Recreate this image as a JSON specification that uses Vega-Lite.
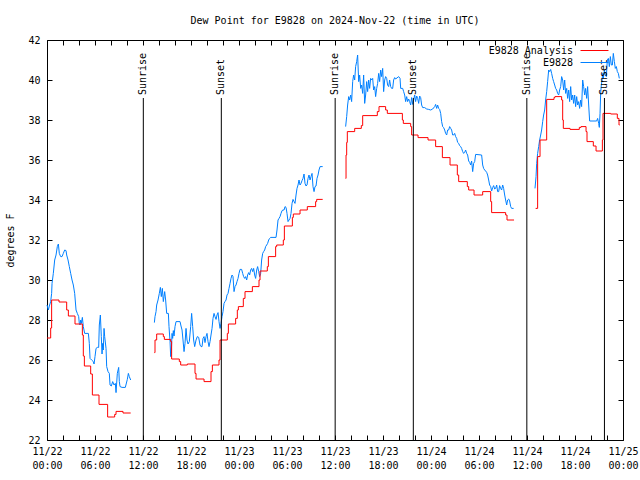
{
  "$schema": "https://vega.github.io/schema/vega-lite/v6.json",
  "width": 576,
  "height": 400,
  "autosize": {"type": "none"},
  "padding": {"left": 47, "top": 40, "right": 17, "bottom": 40},
  "background": "white",
  "title": {"text": "Dew Point for E9828 on 2024-Nov-22 (time in UTC)", "font": "DejaVu Sans Mono", "fontSize": 10, "fontWeight": "normal", "color": "black", "offset": 9, "anchor": "middle"},
  "config": {
    "view": {"stroke": "black", "strokeWidth": 1},
    "axis": {"domain": false, "grid": false, "tickColor": "black", "tickSize": -5, "tickWidth": 1, "labelFont": "DejaVu Sans Mono", "labelFontSize": 10, "labelColor": "black", "titleFont": "DejaVu Sans Mono", "titleFontSize": 10, "titleFontWeight": "normal", "titleColor": "black"},
    "legend": {"labelFont": "DejaVu Sans Mono", "labelFontSize": 10, "labelColor": "black"}
  },
  "datasets": {
    "obs": [
      {"seg":1,"hour":0.0,"dewpoint":28.75},{"seg":1,"hour":0.17,"dewpoint":28.5},{"seg":1,"hour":0.29,"dewpoint":28.7},{"seg":1,"hour":0.46,"dewpoint":28.92},{"seg":1,"hour":0.58,"dewpoint":29.33},{"seg":1,"hour":0.63,"dewpoint":29.83},{"seg":1,"hour":0.79,"dewpoint":30.33},{"seg":1,"hour":0.96,"dewpoint":31.0},{"seg":1,"hour":1.13,"dewpoint":31.25},{"seg":1,"hour":1.29,"dewpoint":31.67},{"seg":1,"hour":1.42,"dewpoint":31.8},{"seg":1,"hour":1.54,"dewpoint":31.33},{"seg":1,"hour":1.71,"dewpoint":31.17},{"seg":1,"hour":1.88,"dewpoint":31.17},{"seg":1,"hour":2.04,"dewpoint":31.33},{"seg":1,"hour":2.21,"dewpoint":31.5},{"seg":1,"hour":2.38,"dewpoint":31.47},{"seg":1,"hour":2.46,"dewpoint":31.25},{"seg":1,"hour":2.63,"dewpoint":31.0},{"seg":1,"hour":2.79,"dewpoint":30.67},{"seg":1,"hour":2.96,"dewpoint":30.33},{"seg":1,"hour":3.13,"dewpoint":30.0},{"seg":1,"hour":3.29,"dewpoint":29.75},{"seg":1,"hour":3.46,"dewpoint":29.33},{"seg":1,"hour":3.63,"dewpoint":28.5},{"seg":1,"hour":3.79,"dewpoint":28.33},{"seg":1,"hour":3.96,"dewpoint":28.17},{"seg":1,"hour":4.04,"dewpoint":27.83},{"seg":1,"hour":4.13,"dewpoint":27.75},{"seg":1,"hour":4.21,"dewpoint":28.0},{"seg":1,"hour":4.29,"dewpoint":27.83},{"seg":1,"hour":4.42,"dewpoint":28.13},{"seg":1,"hour":4.54,"dewpoint":27.67},{"seg":1,"hour":4.71,"dewpoint":27.33},{"seg":1,"hour":5.17,"dewpoint":27.33},{"seg":1,"hour":5.29,"dewpoint":26.83},{"seg":1,"hour":5.38,"dewpoint":26.08},{"seg":1,"hour":5.58,"dewpoint":26.0},{"seg":1,"hour":5.79,"dewpoint":25.92},{"seg":1,"hour":5.88,"dewpoint":25.8},{"seg":1,"hour":6.0,"dewpoint":26.17},{"seg":1,"hour":6.13,"dewpoint":26.58},{"seg":1,"hour":6.29,"dewpoint":26.63},{"seg":1,"hour":6.46,"dewpoint":26.63},{"seg":1,"hour":6.54,"dewpoint":27.75},{"seg":1,"hour":6.67,"dewpoint":28.25},{"seg":1,"hour":6.79,"dewpoint":27.17},{"seg":1,"hour":6.88,"dewpoint":26.3},{"seg":1,"hour":6.96,"dewpoint":26.83},{"seg":1,"hour":7.04,"dewpoint":26.5},{"seg":1,"hour":7.13,"dewpoint":27.58},{"seg":1,"hour":7.21,"dewpoint":27.17},{"seg":1,"hour":7.38,"dewpoint":26.58},{"seg":1,"hour":7.46,"dewpoint":25.67},{"seg":1,"hour":7.63,"dewpoint":25.42},{"seg":1,"hour":7.79,"dewpoint":25.33},{"seg":1,"hour":7.88,"dewpoint":24.75},{"seg":1,"hour":8.04,"dewpoint":24.7},{"seg":1,"hour":8.21,"dewpoint":24.92},{"seg":1,"hour":8.38,"dewpoint":24.75},{"seg":1,"hour":8.54,"dewpoint":24.83},{"seg":1,"hour":8.63,"dewpoint":24.37},{"seg":1,"hour":8.79,"dewpoint":25.33},{"seg":1,"hour":8.96,"dewpoint":25.63},{"seg":1,"hour":9.04,"dewpoint":24.92},{"seg":1,"hour":9.13,"dewpoint":24.67},{"seg":1,"hour":9.38,"dewpoint":24.63},{"seg":1,"hour":9.79,"dewpoint":24.63},{"seg":1,"hour":10.04,"dewpoint":25.03},{"seg":1,"hour":10.17,"dewpoint":25.33},{"seg":1,"hour":10.29,"dewpoint":25.17},{"seg":1,"hour":10.46,"dewpoint":25.0},
      {"seg":2,"hour":13.42,"dewpoint":27.87},{"seg":2,"hour":13.5,"dewpoint":28.17},{"seg":2,"hour":13.63,"dewpoint":28.42},{"seg":2,"hour":13.71,"dewpoint":28.75},{"seg":2,"hour":13.88,"dewpoint":29.0},{"seg":2,"hour":14.04,"dewpoint":29.33},{"seg":2,"hour":14.17,"dewpoint":29.63},{"seg":2,"hour":14.29,"dewpoint":29.17},{"seg":2,"hour":14.42,"dewpoint":29.58},{"seg":2,"hour":14.54,"dewpoint":28.92},{"seg":2,"hour":14.63,"dewpoint":29.17},{"seg":2,"hour":14.71,"dewpoint":29.42},{"seg":2,"hour":14.83,"dewpoint":29.0},{"seg":2,"hour":14.96,"dewpoint":28.33},{"seg":2,"hour":15.17,"dewpoint":28.33},{"seg":2,"hour":15.25,"dewpoint":27.67},{"seg":2,"hour":15.38,"dewpoint":26.92},{"seg":2,"hour":15.46,"dewpoint":26.17},{"seg":2,"hour":15.54,"dewpoint":26.42},{"seg":2,"hour":15.63,"dewpoint":27.33},{"seg":2,"hour":15.71,"dewpoint":27.08},{"seg":2,"hour":15.79,"dewpoint":27.47},{"seg":2,"hour":15.88,"dewpoint":27.2},{"seg":2,"hour":16.0,"dewpoint":27.67},{"seg":2,"hour":16.13,"dewpoint":27.92},{"seg":2,"hour":16.63,"dewpoint":27.92},{"seg":2,"hour":16.75,"dewpoint":27.7},{"seg":2,"hour":16.88,"dewpoint":27.5},{"seg":2,"hour":17.0,"dewpoint":27.0},{"seg":2,"hour":17.13,"dewpoint":26.42},{"seg":2,"hour":17.25,"dewpoint":26.83},{"seg":2,"hour":17.38,"dewpoint":27.58},{"seg":2,"hour":17.5,"dewpoint":27.0},{"seg":2,"hour":17.63,"dewpoint":26.8},{"seg":2,"hour":17.79,"dewpoint":26.92},{"seg":2,"hour":17.96,"dewpoint":27.67},{"seg":2,"hour":18.08,"dewpoint":28.33},{"seg":2,"hour":18.21,"dewpoint":27.67},{"seg":2,"hour":18.33,"dewpoint":27.0},{"seg":2,"hour":18.46,"dewpoint":26.67},{"seg":2,"hour":18.63,"dewpoint":27.0},{"seg":2,"hour":18.79,"dewpoint":27.17},{"seg":2,"hour":18.96,"dewpoint":27.13},{"seg":2,"hour":19.13,"dewpoint":26.75},{"seg":2,"hour":19.25,"dewpoint":26.67},{"seg":2,"hour":19.38,"dewpoint":26.67},{"seg":2,"hour":19.5,"dewpoint":27.08},{"seg":2,"hour":19.63,"dewpoint":27.17},{"seg":2,"hour":19.75,"dewpoint":26.87},{"seg":2,"hour":19.88,"dewpoint":27.17},{"seg":2,"hour":20.0,"dewpoint":27.33},{"seg":2,"hour":20.13,"dewpoint":26.92},{"seg":2,"hour":20.25,"dewpoint":26.67},{"seg":2,"hour":20.38,"dewpoint":26.92},{"seg":2,"hour":20.5,"dewpoint":27.25},{"seg":2,"hour":20.63,"dewpoint":27.58},{"seg":2,"hour":20.75,"dewpoint":28.08},{"seg":2,"hour":20.88,"dewpoint":28.33},{"seg":2,"hour":21.0,"dewpoint":28.17},{"seg":2,"hour":21.13,"dewpoint":28.03},{"seg":2,"hour":21.25,"dewpoint":28.25},{"seg":2,"hour":21.38,"dewpoint":28.37},{"seg":2,"hour":21.5,"dewpoint":27.92},{"seg":2,"hour":21.63,"dewpoint":27.58},{"seg":2,"hour":21.75,"dewpoint":27.83},{"seg":2,"hour":21.88,"dewpoint":28.17},{"seg":2,"hour":22.0,"dewpoint":28.42},{"seg":2,"hour":22.13,"dewpoint":28.83},{"seg":2,"hour":22.25,"dewpoint":28.92},{"seg":2,"hour":22.38,"dewpoint":29.0},{"seg":2,"hour":22.5,"dewpoint":29.25},{"seg":2,"hour":22.63,"dewpoint":29.33},{"seg":2,"hour":22.75,"dewpoint":29.58},{"seg":2,"hour":22.88,"dewpoint":29.83},{"seg":2,"hour":23.0,"dewpoint":30.08},{"seg":2,"hour":23.13,"dewpoint":30.25},{"seg":2,"hour":23.25,"dewpoint":30.17},{"seg":2,"hour":23.38,"dewpoint":29.42},{"seg":2,"hour":23.5,"dewpoint":29.67},{"seg":2,"hour":23.63,"dewpoint":29.75},{"seg":2,"hour":23.75,"dewpoint":29.92},{"seg":2,"hour":23.88,"dewpoint":30.08},{"seg":2,"hour":24.0,"dewpoint":30.33},{"seg":2,"hour":24.13,"dewpoint":30.53},{"seg":2,"hour":24.33,"dewpoint":30.53},{"seg":2,"hour":24.46,"dewpoint":30.33},{"seg":2,"hour":24.58,"dewpoint":30.17},{"seg":2,"hour":24.71,"dewpoint":30.08},{"seg":2,"hour":24.83,"dewpoint":30.17},{"seg":2,"hour":24.96,"dewpoint":30.0},{"seg":2,"hour":25.08,"dewpoint":30.25},{"seg":2,"hour":25.21,"dewpoint":30.37},{"seg":2,"hour":25.33,"dewpoint":30.25},{"seg":2,"hour":25.46,"dewpoint":30.5},{"seg":2,"hour":25.58,"dewpoint":30.58},{"seg":2,"hour":25.71,"dewpoint":30.42},{"seg":2,"hour":25.83,"dewpoint":30.58},{"seg":2,"hour":25.96,"dewpoint":30.25},{"seg":2,"hour":26.08,"dewpoint":30.08},{"seg":2,"hour":26.21,"dewpoint":30.5},{"seg":2,"hour":26.33,"dewpoint":30.67},{"seg":2,"hour":26.46,"dewpoint":30.42},{"seg":2,"hour":26.58,"dewpoint":30.17},{"seg":2,"hour":26.71,"dewpoint":30.33},{"seg":2,"hour":26.83,"dewpoint":31.0},{"seg":2,"hour":26.96,"dewpoint":31.33},{"seg":2,"hour":27.08,"dewpoint":31.42},{"seg":2,"hour":27.21,"dewpoint":31.5},{"seg":2,"hour":27.33,"dewpoint":31.67},{"seg":2,"hour":27.46,"dewpoint":31.75},{"seg":2,"hour":27.58,"dewpoint":31.83},{"seg":2,"hour":27.71,"dewpoint":32.0},{"seg":2,"hour":27.83,"dewpoint":32.08},{"seg":2,"hour":27.96,"dewpoint":32.13},{"seg":2,"hour":28.63,"dewpoint":32.13},{"seg":2,"hour":28.75,"dewpoint":32.5},{"seg":2,"hour":28.88,"dewpoint":33.0},{"seg":2,"hour":29.0,"dewpoint":33.08},{"seg":2,"hour":29.13,"dewpoint":33.17},{"seg":2,"hour":29.25,"dewpoint":33.33},{"seg":2,"hour":29.38,"dewpoint":33.47},{"seg":2,"hour":29.5,"dewpoint":33.5},{"seg":2,"hour":29.63,"dewpoint":33.5},{"seg":2,"hour":29.75,"dewpoint":33.67},{"seg":2,"hour":29.88,"dewpoint":33.63},{"seg":2,"hour":30.0,"dewpoint":33.33},{"seg":2,"hour":30.13,"dewpoint":32.92},{"seg":2,"hour":30.25,"dewpoint":33.0},{"seg":2,"hour":30.38,"dewpoint":33.08},{"seg":2,"hour":30.5,"dewpoint":33.33},{"seg":2,"hour":30.63,"dewpoint":33.83},{"seg":2,"hour":30.75,"dewpoint":34.03},{"seg":2,"hour":30.88,"dewpoint":33.92},{"seg":2,"hour":31.0,"dewpoint":33.83},{"seg":2,"hour":31.13,"dewpoint":34.25},{"seg":2,"hour":31.25,"dewpoint":34.58},{"seg":2,"hour":31.38,"dewpoint":34.75},{"seg":2,"hour":31.5,"dewpoint":35.0},{"seg":2,"hour":31.63,"dewpoint":34.75},{"seg":2,"hour":31.75,"dewpoint":34.83},{"seg":2,"hour":31.88,"dewpoint":34.97},{"seg":2,"hour":32.0,"dewpoint":35.08},{"seg":2,"hour":32.13,"dewpoint":35.3},{"seg":2,"hour":32.25,"dewpoint":34.83},{"seg":2,"hour":32.38,"dewpoint":34.7},{"seg":2,"hour":32.5,"dewpoint":34.75},{"seg":2,"hour":32.63,"dewpoint":35.08},{"seg":2,"hour":32.75,"dewpoint":35.25},{"seg":2,"hour":32.88,"dewpoint":35.0},{"seg":2,"hour":33.0,"dewpoint":35.17},{"seg":2,"hour":33.13,"dewpoint":35.33},{"seg":2,"hour":33.25,"dewpoint":34.67},{"seg":2,"hour":33.38,"dewpoint":34.42},{"seg":2,"hour":33.5,"dewpoint":34.67},{"seg":2,"hour":33.63,"dewpoint":34.7},{"seg":2,"hour":33.75,"dewpoint":35.08},{"seg":2,"hour":33.88,"dewpoint":35.25},{"seg":2,"hour":34.0,"dewpoint":35.5},{"seg":2,"hour":34.13,"dewpoint":35.67},{"seg":2,"hour":34.46,"dewpoint":35.67},
      {"seg":3,"hour":37.33,"dewpoint":37.67},{"seg":3,"hour":37.46,"dewpoint":38.17},{"seg":3,"hour":37.58,"dewpoint":38.75},{"seg":3,"hour":37.71,"dewpoint":39.17},{"seg":3,"hour":37.83,"dewpoint":39.0},{"seg":3,"hour":37.96,"dewpoint":39.25},{"seg":3,"hour":38.08,"dewpoint":38.92},{"seg":3,"hour":38.21,"dewpoint":39.92},{"seg":3,"hour":38.33,"dewpoint":40.25},{"seg":3,"hour":38.46,"dewpoint":40.0},{"seg":3,"hour":38.58,"dewpoint":40.67},{"seg":3,"hour":38.71,"dewpoint":40.92},{"seg":3,"hour":38.83,"dewpoint":41.25},{"seg":3,"hour":38.96,"dewpoint":39.92},{"seg":3,"hour":39.08,"dewpoint":40.25},{"seg":3,"hour":39.21,"dewpoint":39.58},{"seg":3,"hour":39.33,"dewpoint":39.75},{"seg":3,"hour":39.46,"dewpoint":39.33},{"seg":3,"hour":39.58,"dewpoint":40.25},{"seg":3,"hour":39.71,"dewpoint":38.83},{"seg":3,"hour":39.83,"dewpoint":39.25},{"seg":3,"hour":39.96,"dewpoint":39.92},{"seg":3,"hour":40.08,"dewpoint":39.42},{"seg":3,"hour":40.21,"dewpoint":40.0},{"seg":3,"hour":40.33,"dewpoint":39.58},{"seg":3,"hour":40.46,"dewpoint":40.08},{"seg":3,"hour":40.58,"dewpoint":40.0},{"seg":3,"hour":40.71,"dewpoint":40.08},{"seg":3,"hour":40.83,"dewpoint":39.5},{"seg":3,"hour":40.96,"dewpoint":39.67},{"seg":3,"hour":41.08,"dewpoint":39.17},{"seg":3,"hour":41.21,"dewpoint":39.58},{"seg":3,"hour":41.33,"dewpoint":39.83},{"seg":3,"hour":41.46,"dewpoint":40.33},{"seg":3,"hour":41.58,"dewpoint":39.92},{"seg":3,"hour":41.71,"dewpoint":40.5},{"seg":3,"hour":41.83,"dewpoint":40.17},{"seg":3,"hour":41.96,"dewpoint":40.58},{"seg":3,"hour":42.08,"dewpoint":39.42},{"seg":3,"hour":42.21,"dewpoint":40.0},{"seg":3,"hour":42.33,"dewpoint":40.17},{"seg":3,"hour":42.46,"dewpoint":40.08},{"seg":3,"hour":42.58,"dewpoint":39.75},{"seg":3,"hour":42.71,"dewpoint":39.67},{"seg":3,"hour":42.83,"dewpoint":40.0},{"seg":3,"hour":42.96,"dewpoint":39.67},{"seg":3,"hour":43.08,"dewpoint":39.58},{"seg":3,"hour":43.21,"dewpoint":39.58},{"seg":3,"hour":43.33,"dewpoint":40.0},{"seg":3,"hour":43.46,"dewpoint":40.12},{"seg":3,"hour":43.58,"dewpoint":40.05},{"seg":3,"hour":43.96,"dewpoint":40.17},{"seg":3,"hour":44.13,"dewpoint":40.08},{"seg":3,"hour":44.21,"dewpoint":39.58},{"seg":3,"hour":44.46,"dewpoint":39.58},{"seg":3,"hour":44.58,"dewpoint":39.42},{"seg":3,"hour":44.71,"dewpoint":39.25},{"seg":3,"hour":44.83,"dewpoint":38.92},{"seg":3,"hour":44.96,"dewpoint":39.17},{"seg":3,"hour":45.08,"dewpoint":38.92},{"seg":3,"hour":45.21,"dewpoint":39.05},{"seg":3,"hour":45.33,"dewpoint":38.92},{"seg":3,"hour":45.46,"dewpoint":38.75},{"seg":3,"hour":45.58,"dewpoint":39.12},{"seg":3,"hour":45.71,"dewpoint":38.78},{"seg":3,"hour":45.83,"dewpoint":39.0},{"seg":3,"hour":45.96,"dewpoint":39.25},{"seg":3,"hour":46.08,"dewpoint":38.92},{"seg":3,"hour":46.21,"dewpoint":39.2},{"seg":3,"hour":46.33,"dewpoint":39.08},{"seg":3,"hour":46.46,"dewpoint":38.83},{"seg":3,"hour":46.58,"dewpoint":39.2},{"seg":3,"hour":46.71,"dewpoint":39.12},{"seg":3,"hour":46.83,"dewpoint":38.75},{"seg":3,"hour":46.96,"dewpoint":38.62},{"seg":3,"hour":47.21,"dewpoint":38.62},{"seg":3,"hour":47.46,"dewpoint":38.55},{"seg":3,"hour":47.71,"dewpoint":38.53},{"seg":3,"hour":47.96,"dewpoint":38.5},{"seg":3,"hour":48.21,"dewpoint":38.55},{"seg":3,"hour":48.46,"dewpoint":38.67},{"seg":3,"hour":48.58,"dewpoint":38.78},{"seg":3,"hour":48.71,"dewpoint":38.58},{"seg":3,"hour":48.83,"dewpoint":38.75},{"seg":3,"hour":48.96,"dewpoint":38.58},{"seg":3,"hour":49.08,"dewpoint":38.53},{"seg":3,"hour":49.21,"dewpoint":38.33},{"seg":3,"hour":49.33,"dewpoint":37.92},{"seg":3,"hour":49.46,"dewpoint":37.67},{"seg":3,"hour":49.58,"dewpoint":37.62},{"seg":3,"hour":49.71,"dewpoint":37.5},{"seg":3,"hour":49.83,"dewpoint":37.33},{"seg":3,"hour":49.96,"dewpoint":37.25},{"seg":3,"hour":50.08,"dewpoint":37.5},{"seg":3,"hour":50.21,"dewpoint":37.5},{"seg":3,"hour":50.33,"dewpoint":37.67},{"seg":3,"hour":50.46,"dewpoint":37.58},{"seg":3,"hour":50.58,"dewpoint":37.5},{"seg":3,"hour":50.71,"dewpoint":37.25},{"seg":3,"hour":50.83,"dewpoint":37.25},{"seg":3,"hour":50.96,"dewpoint":37.33},{"seg":3,"hour":51.08,"dewpoint":37.17},{"seg":3,"hour":51.21,"dewpoint":37.08},{"seg":3,"hour":51.33,"dewpoint":36.88},{"seg":3,"hour":51.46,"dewpoint":36.83},{"seg":3,"hour":51.58,"dewpoint":36.72},{"seg":3,"hour":51.71,"dewpoint":36.67},{"seg":3,"hour":51.83,"dewpoint":36.58},{"seg":3,"hour":51.96,"dewpoint":36.42},{"seg":3,"hour":52.08,"dewpoint":36.33},{"seg":3,"hour":52.21,"dewpoint":36.38},{"seg":3,"hour":52.33,"dewpoint":36.5},{"seg":3,"hour":52.46,"dewpoint":36.33},{"seg":3,"hour":52.58,"dewpoint":36.25},{"seg":3,"hour":52.71,"dewpoint":35.95},{"seg":3,"hour":52.83,"dewpoint":35.88},{"seg":3,"hour":52.96,"dewpoint":35.75},{"seg":3,"hour":53.08,"dewpoint":35.95},{"seg":3,"hour":53.21,"dewpoint":35.42},{"seg":3,"hour":53.33,"dewpoint":35.83},{"seg":3,"hour":53.46,"dewpoint":35.92},{"seg":3,"hour":53.58,"dewpoint":36.28},{"seg":3,"hour":54.33,"dewpoint":36.25},{"seg":3,"hour":54.46,"dewpoint":35.75},{"seg":3,"hour":54.58,"dewpoint":35.58},{"seg":3,"hour":54.71,"dewpoint":35.5},{"seg":3,"hour":54.83,"dewpoint":35.45},{"seg":3,"hour":54.96,"dewpoint":35.38},{"seg":3,"hour":55.08,"dewpoint":35.25},{"seg":3,"hour":55.21,"dewpoint":35.0},{"seg":3,"hour":55.33,"dewpoint":34.75},{"seg":3,"hour":55.46,"dewpoint":34.67},{"seg":3,"hour":55.58,"dewpoint":34.45},{"seg":3,"hour":55.71,"dewpoint":34.62},{"seg":3,"hour":55.83,"dewpoint":34.72},{"seg":3,"hour":55.96,"dewpoint":34.55},{"seg":3,"hour":56.08,"dewpoint":34.58},{"seg":3,"hour":56.21,"dewpoint":34.75},{"seg":3,"hour":56.33,"dewpoint":34.42},{"seg":3,"hour":56.46,"dewpoint":34.42},{"seg":3,"hour":56.58,"dewpoint":34.72},{"seg":3,"hour":56.71,"dewpoint":34.58},{"seg":3,"hour":56.83,"dewpoint":34.5},{"seg":3,"hour":56.96,"dewpoint":34.75},{"seg":3,"hour":57.08,"dewpoint":34.58},{"seg":3,"hour":57.21,"dewpoint":34.25},{"seg":3,"hour":57.33,"dewpoint":34.0},{"seg":3,"hour":57.46,"dewpoint":33.75},{"seg":3,"hour":57.58,"dewpoint":34.0},{"seg":3,"hour":57.71,"dewpoint":34.05},{"seg":3,"hour":57.83,"dewpoint":33.95},{"seg":3,"hour":57.96,"dewpoint":33.67},{"seg":3,"hour":58.08,"dewpoint":33.58},{"seg":3,"hour":58.33,"dewpoint":33.58},
      {"seg":4,"hour":61.0,"dewpoint":34.58},{"seg":4,"hour":61.13,"dewpoint":35.17},{"seg":4,"hour":61.21,"dewpoint":35.83},{"seg":4,"hour":61.33,"dewpoint":36.33},{"seg":4,"hour":61.46,"dewpoint":36.67},{"seg":4,"hour":61.58,"dewpoint":37.0},{"seg":4,"hour":61.71,"dewpoint":37.25},{"seg":4,"hour":61.83,"dewpoint":37.5},{"seg":4,"hour":61.96,"dewpoint":37.92},{"seg":4,"hour":62.08,"dewpoint":38.25},{"seg":4,"hour":62.21,"dewpoint":38.5},{"seg":4,"hour":62.33,"dewpoint":39.0},{"seg":4,"hour":62.46,"dewpoint":39.42},{"seg":4,"hour":62.58,"dewpoint":39.92},{"seg":4,"hour":62.71,"dewpoint":40.5},{"seg":4,"hour":62.83,"dewpoint":40.42},{"seg":4,"hour":62.96,"dewpoint":40.53},{"seg":4,"hour":63.08,"dewpoint":40.33},{"seg":4,"hour":63.21,"dewpoint":40.08},{"seg":4,"hour":63.33,"dewpoint":39.92},{"seg":4,"hour":63.46,"dewpoint":39.75},{"seg":4,"hour":63.58,"dewpoint":39.58},{"seg":4,"hour":63.71,"dewpoint":39.5},{"seg":4,"hour":63.83,"dewpoint":39.33},{"seg":4,"hour":63.96,"dewpoint":39.25},{"seg":4,"hour":64.08,"dewpoint":39.5},{"seg":4,"hour":64.21,"dewpoint":39.67},{"seg":4,"hour":64.33,"dewpoint":40.17},{"seg":4,"hour":64.46,"dewpoint":40.0},{"seg":4,"hour":64.58,"dewpoint":39.5},{"seg":4,"hour":64.71,"dewpoint":40.0},{"seg":4,"hour":64.83,"dewpoint":39.33},{"seg":4,"hour":64.96,"dewpoint":39.58},{"seg":4,"hour":65.08,"dewpoint":39.08},{"seg":4,"hour":65.21,"dewpoint":39.5},{"seg":4,"hour":65.33,"dewpoint":38.92},{"seg":4,"hour":65.46,"dewpoint":39.67},{"seg":4,"hour":65.58,"dewpoint":39.0},{"seg":4,"hour":65.71,"dewpoint":39.25},{"seg":4,"hour":65.83,"dewpoint":38.83},{"seg":4,"hour":65.96,"dewpoint":39.25},{"seg":4,"hour":66.08,"dewpoint":38.67},{"seg":4,"hour":66.21,"dewpoint":39.17},{"seg":4,"hour":66.33,"dewpoint":38.75},{"seg":4,"hour":66.46,"dewpoint":38.92},{"seg":4,"hour":66.58,"dewpoint":38.58},{"seg":4,"hour":66.71,"dewpoint":39.0},{"seg":4,"hour":66.83,"dewpoint":38.67},{"seg":4,"hour":66.96,"dewpoint":40.0},{"seg":4,"hour":67.08,"dewpoint":39.67},{"seg":4,"hour":67.21,"dewpoint":39.25},{"seg":4,"hour":67.33,"dewpoint":39.58},{"seg":4,"hour":67.46,"dewpoint":39.08},{"seg":4,"hour":67.58,"dewpoint":39.67},{"seg":4,"hour":67.71,"dewpoint":38.75},{"seg":4,"hour":67.83,"dewpoint":37.95},{"seg":4,"hour":68.71,"dewpoint":37.95},{"seg":4,"hour":68.83,"dewpoint":38.08},{"seg":4,"hour":68.96,"dewpoint":37.83},{"seg":4,"hour":69.04,"dewpoint":37.63},{"seg":4,"hour":69.13,"dewpoint":38.33},{"seg":4,"hour":69.21,"dewpoint":39.33},{"seg":4,"hour":69.29,"dewpoint":39.75},{"seg":4,"hour":69.38,"dewpoint":40.0},{"seg":4,"hour":69.46,"dewpoint":40.33},{"seg":4,"hour":69.54,"dewpoint":40.08},{"seg":4,"hour":69.67,"dewpoint":40.5},{"seg":4,"hour":69.79,"dewpoint":40.25},{"seg":4,"hour":69.92,"dewpoint":40.17},{"seg":4,"hour":70.04,"dewpoint":41.0},{"seg":4,"hour":70.17,"dewpoint":41.08},{"seg":4,"hour":70.29,"dewpoint":40.67},{"seg":4,"hour":70.42,"dewpoint":41.17},{"seg":4,"hour":70.54,"dewpoint":40.75},{"seg":4,"hour":70.67,"dewpoint":40.75},{"seg":4,"hour":70.79,"dewpoint":41.33},{"seg":4,"hour":70.92,"dewpoint":40.92},{"seg":4,"hour":71.04,"dewpoint":40.58},{"seg":4,"hour":71.17,"dewpoint":40.67},{"seg":4,"hour":71.29,"dewpoint":40.42},{"seg":4,"hour":71.42,"dewpoint":40.33},{"seg":4,"hour":71.54,"dewpoint":40.08}
    ],
    "anl": [
      {"seg":1,"hour":0.0,"dewpoint":27.1},{"seg":1,"hour":0.46,"dewpoint":27.6},{"seg":1,"hour":0.58,"dewpoint":29.0},{"seg":1,"hour":1.5,"dewpoint":28.9},{"seg":1,"hour":2.46,"dewpoint":28.5},{"seg":1,"hour":2.67,"dewpoint":28.2},{"seg":1,"hour":3.5,"dewpoint":27.8},{"seg":1,"hour":4.42,"dewpoint":27.25},{"seg":1,"hour":4.54,"dewpoint":26.2},{"seg":1,"hour":4.67,"dewpoint":25.7},{"seg":1,"hour":5.46,"dewpoint":25.3},{"seg":1,"hour":5.67,"dewpoint":24.25},{"seg":1,"hour":6.5,"dewpoint":23.78},{"seg":1,"hour":7.58,"dewpoint":23.15},{"seg":1,"hour":8.46,"dewpoint":23.28},{"seg":1,"hour":8.63,"dewpoint":23.43},{"seg":1,"hour":9.5,"dewpoint":23.35},{"seg":1,"hour":10.46,"dewpoint":23.35},
      {"seg":2,"hour":13.42,"dewpoint":26.37},{"seg":2,"hour":13.5,"dewpoint":27.0},{"seg":2,"hour":13.71,"dewpoint":27.3},{"seg":2,"hour":14.54,"dewpoint":27.17},{"seg":2,"hour":14.67,"dewpoint":27.03},{"seg":2,"hour":15.46,"dewpoint":26.92},{"seg":2,"hour":15.58,"dewpoint":26.05},{"seg":2,"hour":16.54,"dewpoint":25.92},{"seg":2,"hour":16.71,"dewpoint":25.75},{"seg":2,"hour":17.54,"dewpoint":25.8},{"seg":2,"hour":18.5,"dewpoint":25.33},{"seg":2,"hour":18.63,"dewpoint":25.05},{"seg":2,"hour":19.63,"dewpoint":24.92},{"seg":2,"hour":20.5,"dewpoint":25.42},{"seg":2,"hour":20.67,"dewpoint":25.75},{"seg":2,"hour":21.5,"dewpoint":26.0},{"seg":2,"hour":21.63,"dewpoint":27.0},{"seg":2,"hour":22.54,"dewpoint":27.33},{"seg":2,"hour":22.67,"dewpoint":27.8},{"seg":2,"hour":23.58,"dewpoint":28.08},{"seg":2,"hour":23.79,"dewpoint":28.5},{"seg":2,"hour":23.92,"dewpoint":28.67},{"seg":2,"hour":24.54,"dewpoint":29.08},{"seg":2,"hour":24.75,"dewpoint":29.42},{"seg":2,"hour":25.67,"dewpoint":29.67},{"seg":2,"hour":26.5,"dewpoint":30.0},{"seg":2,"hour":26.63,"dewpoint":30.45},{"seg":2,"hour":27.54,"dewpoint":30.67},{"seg":2,"hour":27.67,"dewpoint":31.17},{"seg":2,"hour":28.58,"dewpoint":31.67},{"seg":2,"hour":28.71,"dewpoint":31.75},{"seg":2,"hour":29.54,"dewpoint":32.0},{"seg":2,"hour":29.67,"dewpoint":32.7},{"seg":2,"hour":30.67,"dewpoint":33.13},{"seg":2,"hour":30.79,"dewpoint":33.3},{"seg":2,"hour":31.63,"dewpoint":33.5},{"seg":2,"hour":32.54,"dewpoint":33.67},{"seg":2,"hour":33.58,"dewpoint":33.92},{"seg":2,"hour":33.71,"dewpoint":34.03},{"seg":2,"hour":34.46,"dewpoint":34.03},
      {"seg":3,"hour":37.33,"dewpoint":35.08},{"seg":3,"hour":37.38,"dewpoint":36.25},{"seg":3,"hour":37.46,"dewpoint":36.88},{"seg":3,"hour":37.54,"dewpoint":37.42},{"seg":3,"hour":38.46,"dewpoint":37.58},{"seg":3,"hour":39.29,"dewpoint":37.72},{"seg":3,"hour":39.46,"dewpoint":38.22},{"seg":3,"hour":41.29,"dewpoint":38.42},{"seg":3,"hour":41.5,"dewpoint":38.67},{"seg":3,"hour":42.33,"dewpoint":38.5},{"seg":3,"hour":42.54,"dewpoint":38.33},{"seg":3,"hour":44.42,"dewpoint":38.0},{"seg":3,"hour":44.54,"dewpoint":37.83},{"seg":3,"hour":45.46,"dewpoint":37.67},{"seg":3,"hour":45.58,"dewpoint":37.25},{"seg":3,"hour":46.38,"dewpoint":37.12},{"seg":3,"hour":47.63,"dewpoint":37.0},{"seg":3,"hour":48.58,"dewpoint":36.67},{"seg":3,"hour":49.42,"dewpoint":36.12},{"seg":3,"hour":50.38,"dewpoint":35.75},{"seg":3,"hour":51.29,"dewpoint":35.25},{"seg":3,"hour":51.46,"dewpoint":34.92},{"seg":3,"hour":52.54,"dewpoint":34.67},{"seg":3,"hour":52.71,"dewpoint":34.5},{"seg":3,"hour":53.38,"dewpoint":34.25},{"seg":3,"hour":54.46,"dewpoint":34.42},{"seg":3,"hour":55.46,"dewpoint":33.92},{"seg":3,"hour":55.58,"dewpoint":33.37},{"seg":3,"hour":57.33,"dewpoint":33.25},{"seg":3,"hour":57.5,"dewpoint":33.0},{"seg":3,"hour":58.38,"dewpoint":33.0},
      {"seg":4,"hour":61.08,"dewpoint":33.58},{"seg":4,"hour":61.33,"dewpoint":36.17},{"seg":4,"hour":61.63,"dewpoint":37.0},{"seg":4,"hour":62.46,"dewpoint":39.03},{"seg":4,"hour":63.38,"dewpoint":39.13},{"seg":4,"hour":63.5,"dewpoint":39.17},{"seg":4,"hour":64.33,"dewpoint":39.0},{"seg":4,"hour":64.46,"dewpoint":38.0},{"seg":4,"hour":64.54,"dewpoint":37.58},{"seg":4,"hour":65.38,"dewpoint":37.53},{"seg":4,"hour":66.54,"dewpoint":37.63},{"seg":4,"hour":66.75,"dewpoint":37.67},{"seg":4,"hour":67.38,"dewpoint":37.42},{"seg":4,"hour":67.5,"dewpoint":36.92},{"seg":4,"hour":68.29,"dewpoint":36.7},{"seg":4,"hour":68.63,"dewpoint":36.45},{"seg":4,"hour":69.42,"dewpoint":37.0},{"seg":4,"hour":69.5,"dewpoint":38.33},{"seg":4,"hour":70.46,"dewpoint":38.3},{"seg":4,"hour":71.29,"dewpoint":38.08},{"seg":4,"hour":71.5,"dewpoint":37.75},{"seg":4,"hour":71.58,"dewpoint":37.75}
    ],
    "sun": [
      {"event":"Sunrise","hour":12.04},{"event":"Sunset","hour":21.79},{"event":"Sunrise","hour":36.02},{"event":"Sunset","hour":45.79},{"event":"Sunrise","hour":59.98},{"event":"Sunset","hour":69.68}
    ]
  },
  "resolve": {"axis": {"x": "independent", "y": "independent"}},
  "layer": [
    {
      "data": {"name": "obs"},
      "mark": {"type": "line", "strokeWidth": 1, "interpolate": "linear"},
      "encoding": {
        "x": {"field": "hour", "type": "quantitative", "scale": {"domain": [0, 72], "nice": false, "zero": false},
              "axis": {"orient": "bottom", "title": null, "values": [0,2,4,6,8,10,12,14,16,18,20,22,24,26,28,30,32,34,36,38,40,42,44,46,48,50,52,54,56,58,60,62,64,66,68,70,72],
                       "labelExpr": "datum.value % 6 == 0 ? [utcFormat(utc(2024,10,22,datum.value,0), '%m/%d'), utcFormat(utc(2024,10,22,datum.value,0), '%H:%M')] : ''",
                       "labelOverlap": false, "labelFlush": false, "labelPadding": 11, "labelLineHeight": 14}},
        "y": {"field": "dewpoint", "type": "quantitative", "scale": {"domain": [22, 42], "nice": false, "zero": false},
              "axis": {"orient": "left", "title": "degrees F", "values": [22,24,26,28,30,32,34,36,38,40,42], "labelPadding": 12, "titlePadding": 12}},
        "detail": {"field": "seg"},
        "color": {"datum": "E9828", "type": "nominal",
                  "scale": {"domain": ["E9828 Analysis", "E9828"], "range": ["#ff0000", "#0080ff"]},
                  "legend": {"title": null, "orient": "none", "legendX": 541, "legendY": 4, "padding": 0, "symbolType": "M-2.33,0H2.33", "symbolSize": 144, "symbolStrokeWidth": 1, "labelAlign": "right", "labelOffset": -28, "rowPadding": 0}}
      }
    },
    {
      "data": {"name": "anl"},
      "mark": {"type": "line", "strokeWidth": 1, "interpolate": "step-after"},
      "encoding": {
        "x": {"field": "hour", "type": "quantitative",
              "axis": {"orient": "top", "title": null, "labels": false, "values": [0,2,4,6,8,10,12,14,16,18,20,22,24,26,28,30,32,34,36,38,40,42,44,46,48,50,52,54,56,58,60,62,64,66,68,70,72]}},
        "y": {"field": "dewpoint", "type": "quantitative",
              "axis": {"orient": "right", "title": null, "labels": false, "values": [22,24,26,28,30,32,34,36,38,40,42]}},
        "detail": {"field": "seg"},
        "color": {"datum": "E9828 Analysis", "type": "nominal"}
      }
    },
    {
      "data": {"name": "sun"},
      "mark": {"type": "rule", "color": "black", "strokeWidth": 1},
      "encoding": {
        "x": {"field": "hour", "type": "quantitative", "axis": null},
        "y": {"datum": 22, "type": "quantitative", "axis": null},
        "y2": {"datum": 39.1}
      }
    },
    {
      "data": {"name": "sun"},
      "mark": {"type": "text", "angle": 270, "align": "left", "baseline": "middle", "font": "DejaVu Sans Mono", "fontSize": 10, "color": "black"},
      "encoding": {
        "x": {"field": "hour", "type": "quantitative", "axis": null},
        "y": {"datum": 39.25, "type": "quantitative", "axis": null},
        "text": {"field": "event"}
      }
    }
  ]
}
